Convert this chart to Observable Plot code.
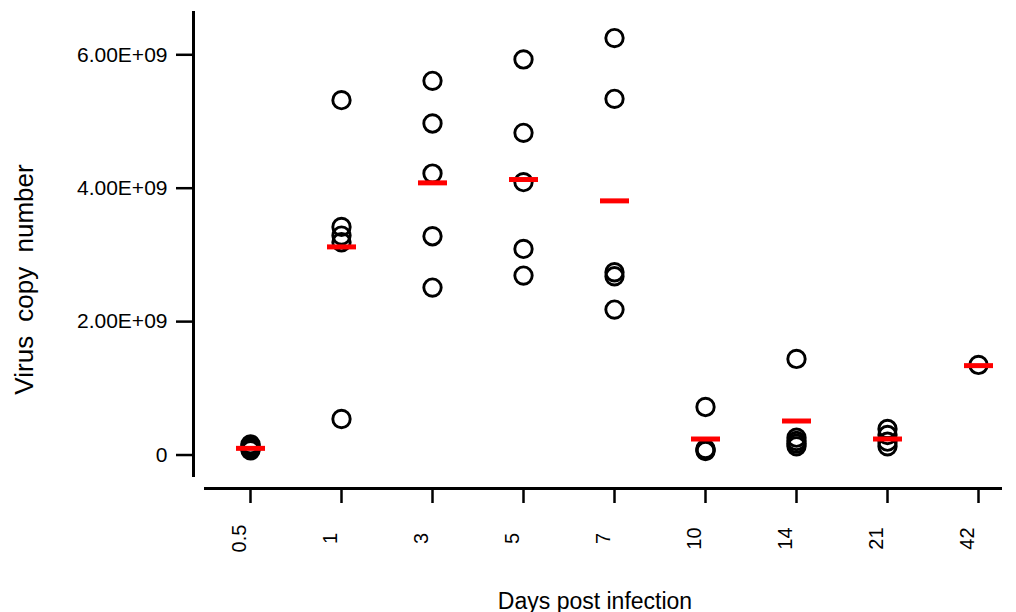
<!DOCTYPE html>
<html><head><meta charset="utf-8">
<script src="https://cdn.jsdelivr.net/npm/d3@7"></script>
<script src="https://cdn.jsdelivr.net/npm/@observablehq/plot@0.6"></script>
<style>body{margin:0;background:#fff} svg{display:block}</style>
</head><body><div id="chart"></div>
<script>
// Categories (days post infection)
const days = ["0.5", "1", "3", "5", "7", "10", "14", "21", "42"];

// Individual measurements (virus copy number)
const pointDay = [
  "0.5","0.5","0.5","0.5","0.5",
  "1","1","1","1","1",
  "3","3","3","3","3",
  "5","5","5","5","5",
  "7","7","7","7","7",
  "10","10","10","10",
  "14","14","14","14","14",
  "21","21","21","21",
  "42"
];
const pointValue = [
  0.16e9, 0.13e9, 0.11e9, 0.09e9, 0.07e9,
  5.32e9, 3.42e9, 3.29e9, 3.19e9, 0.54e9,
  5.61e9, 4.97e9, 4.22e9, 3.28e9, 2.51e9,
  5.93e9, 4.83e9, 4.09e9, 3.09e9, 2.69e9,
  6.25e9, 5.34e9, 2.74e9, 2.68e9, 2.18e9,
  0.72e9, 0.09e9, 0.07e9, 0.06e9,
  1.44e9, 0.26e9, 0.21e9, 0.17e9, 0.13e9,
  0.39e9, 0.30e9, 0.20e9, 0.13e9,
  1.35e9
];

// Group means (red bars), one per day
const meanValue = [0.10e9, 3.12e9, 4.08e9, 4.13e9, 3.81e9, 0.24e9, 0.51e9, 0.24e9, 1.34e9];

// Axis ticks
const yTicks = [0, 2e9, 4e9, 6e9];
const yTickLabels = ["0", "2.00E+09", "4.00E+09", "6.00E+09"];

const points = pointDay.map((d, i) => ({day: d, value: pointValue[i]}));
const means = days.map((d, i) => ({day: d, value: meanValue[i]}));

const barSymbol = {draw(ctx) { ctx.rect(-14.5, -2.5, 29, 5); }};

const chart = Plot.plot({
  width: 1016,
  height: 612,
  marginLeft: 205,
  marginRight: 16,
  marginTop: 12,
  marginBottom: 124,
  style: {fontFamily: "'Liberation Sans', Arial, sans-serif", background: "#fff", color: "#000"},
  x: {type: "point", domain: days, padding: 0, insetLeft: 45, insetRight: 22},
  y: {domain: [-0.307e9, 6.634e9], insetBottom: 13},
  marks: [
    Plot.frame({anchor: "left", dx: -12, insetBottom: 13, strokeWidth: 3}),
    Plot.frame({anchor: "bottom", strokeWidth: 3}),
    Plot.axisY({anchor: "left", ticks: yTicks, tickFormat: d => yTickLabels[yTicks.indexOf(d)],
      tickSize: 17, tickPadding: 9, dx: -12, strokeWidth: 2.5, fontSize: 21, fill: "#000", label: null}),
    Plot.axisX({anchor: "bottom", tickSize: 15, strokeWidth: 2.5, tickFormat: () => "", label: null}),
    Plot.text(days, {x: d => d, frameAnchor: "bottom", rotate: -90, textAnchor: "middle",
      lineAnchor: "middle", dx: -11, dy: 50, fontSize: 20, fill: "#000"}),
    Plot.text(["Days post infection"], {frameAnchor: "bottom", dx: -8, dy: 120, lineAnchor: "bottom", fontSize: 23, fill: "#000"}),
    Plot.text(["Virus copy number"], {frameAnchor: "left", rotate: -90, textAnchor: "middle",
      lineAnchor: "middle", dx: -181, dy: 29, fontSize: 26, fill: "#000"}),
    Plot.dot(points, {x: "day", y: "value", r: 8.7, stroke: "#000", strokeWidth: 2.9, fill: "none"}),
    Plot.dot(means, {x: "day", y: "value", symbol: barSymbol, fill: "#ff0000", stroke: "none"})
  ]
});
document.getElementById("chart").append(chart);
chart.querySelectorAll("text").forEach(t => {
  if (t.textContent === "Virus copy number") t.style.wordSpacing = "7px";
});
</script>
</body></html>
